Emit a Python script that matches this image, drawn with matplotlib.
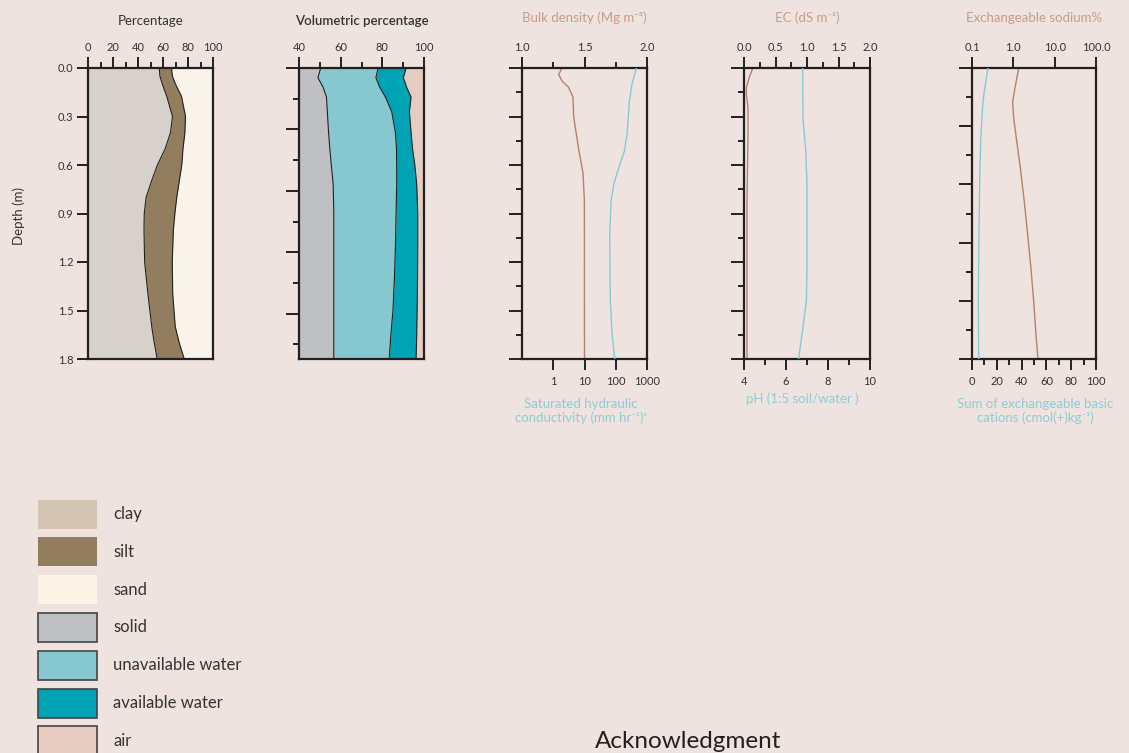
import numpy as np
import matplotlib
matplotlib.use("Agg")
import matplotlib.pyplot as plt
from matplotlib.patches import Rectangle
from matplotlib.ticker import FixedLocator, NullFormatter

plt.rcParams['font.family'] = ['Lato', 'DejaVu Sans']

# ---- data ----
# panel 1: particle size (cumulative %)
tex_depth = [0, 0.05, 0.1, 0.175, 0.3, 0.4, 0.5, 0.6, 0.7, 0.8, 0.9, 1.0, 1.2, 1.4, 1.6, 1.7, 1.8]
clay_top = [57, 57.5, 59.5, 63, 67.6, 66, 61.7, 55.5, 50.8, 46.5, 45, 44.8, 45.3, 48, 51, 53, 55.4]
silt_top = [66.8, 67.5, 70, 74.8, 78, 77.5, 76, 75, 73, 71, 69.5, 68.3, 67.4, 67.8, 69.8, 73, 77]

# panel 2: volumetric composition (cumulative %)
vol_depth = [0, 0.06, 0.12, 0.18, 0.27, 0.4, 0.5, 0.6, 0.72, 0.9, 1.1, 1.3, 1.5, 1.65, 1.8]
solid_top = [50.4, 49.1, 51.6, 53.2, 53.6, 54.2, 54.8, 55.5, 56.4, 56.7, 56.7, 56.7, 56.7, 56.7, 56.7]
unavail_top = [78, 76.9, 78.8, 81.5, 84.5, 86.3, 86.8, 86.9, 86.9, 86.6, 86.3, 85.8, 85.1, 84.1, 83.3]
avail_top = [91.4, 90.1, 91.7, 93.8, 93, 93.8, 94.5, 95.6, 96.5, 97, 97, 96.9, 96.7, 96.5, 96.2]

# panel 3
bd_depth = [0, 0.04, 0.08, 0.12, 0.18, 0.3, 0.5, 0.65, 0.82, 1.8]
bulk_density = [1.32, 1.293, 1.32, 1.373, 1.408, 1.413, 1.453, 1.488, 1.499, 1.5]
ks_depth = [0, 0.1, 0.205, 0.41, 0.513, 0.615, 0.717, 0.82, 1.025, 1.435, 1.64, 1.8]
ksat = [457, 331, 273, 230, 190, 125, 87, 71, 64, 67, 76, 93]

# panel 4
ec_depth = [0, 0.062, 0.123, 0.165, 0.247, 0.41, 0.82, 1.8]
ec = [0.14, 0.08, 0.037, 0.037, 0.064, 0.064, 0.048, 0.048]
ph_depth = [0, 0.31, 0.51, 0.72, 1.23, 1.44, 1.65, 1.8]
ph = [6.79, 6.81, 6.94, 7.0, 7.0, 6.97, 6.76, 6.6]

# panel 5
esp_depth = [0, 0.11, 0.21, 0.31, 0.42, 0.62, 0.83, 1.03, 1.24, 1.44, 1.65, 1.8]
esp = [1.35, 1.12, 0.96, 1.02, 1.16, 1.48, 1.85, 2.22, 2.67, 3.1, 3.53, 3.95]
cat_depth = [0, 0.13, 0.21, 0.42, 0.62, 1.03, 1.44, 1.8]
cations = [12.9, 10.2, 8.8, 7.2, 6.4, 5.6, 5.1, 5.4]

legend_labels = ["clay", "silt", "sand", "solid", "unavailable water", "available water", "air"]

# ---- style ----
BG = "#EEE3DE"
INK = "#231F20"
TXT = "#333333"
C_CLAY, C_SILT, C_SAND = "#D7D1CB", "#937D5F", "#F8F4EA"
L_CLAY, L_SAND = "#D4C5B5", "#FCF4E7"
C_SOLID, C_UNAV, C_AV, C_AIR = "#BFC0C4", "#86C7D0", "#00A3B3", "#E5CCC0"
BROWN = "#B4826F"
BLUE = "#86CAD6"
T_BROWN = "#C99C8A"
T_BLUE = "#8DCCD8"
TICK_FS = 8

W, H = 1129, 753
fig = plt.figure(figsize=(W / 100, H / 100), dpi=100, facecolor=BG)


def make_ax(x0, x1, top=68, bottom=359):
    ax = fig.add_axes([x0 / W, 1 - bottom / H, (x1 - x0) / W, (bottom - top) / H])
    ax.set_facecolor(BG)
    for s in ax.spines.values():
        s.set_linewidth(1.6)
        s.set_color(INK)
    ax.set_ylim(1.8, 0)
    ax.tick_params(axis='both', which='major', direction='out', length=8, width=1.4,
                   color=INK, labelsize=TICK_FS, labelcolor=TXT, pad=2.5)
    ax.tick_params(axis='both', which='minor', direction='out', length=4.5, width=1.4, color=INK)
    return ax


def put_top(ax):
    ax.xaxis.set_ticks_position('top')
    ax.xaxis.set_label_position('top')
    ax.tick_params(axis='x', which='both', top=True, bottom=False,
                   labeltop=True, labelbottom=False)


def depth_ticks(ax, step):
    n = int(round(1.8 / step))
    ticks = [i * step for i in range(n + 1) if i * step <= 1.8 + 1e-9]
    ax.yaxis.set_major_locator(FixedLocator(ticks[::2]))
    ax.yaxis.set_minor_locator(FixedLocator(ticks[1::2]))
    ax.yaxis.set_major_formatter(NullFormatter())
    ax.tick_params(axis='y', which='major', length=9.5)


def bottom_twin(ax):
    tw = ax.twiny()
    tw.xaxis.set_ticks_position('bottom')
    tw.xaxis.set_label_position('bottom')
    tw.tick_params(axis='x', which='both', top=False, bottom=True,
                   labeltop=False, labelbottom=True)
    tw.tick_params(axis='x', which='major', direction='out', length=8, width=1.4,
                   color=INK, labelsize=TICK_FS, labelcolor=TXT, pad=4)
    tw.tick_params(axis='x', which='minor', direction='out', length=4.5, width=1.4, color=INK)
    for s in tw.spines.values():
        s.set_visible(False)
    put_top(ax)
    return tw


# panel 1 -- percentage
ax1 = make_ax(88, 213)
put_top(ax1)
ax1.fill_betweenx(tex_depth, 0, clay_top, color=C_CLAY, lw=0)
ax1.fill_betweenx(tex_depth, clay_top, silt_top, color=C_SILT, lw=0)
ax1.fill_betweenx(tex_depth, silt_top, 100, color=C_SAND, lw=0)
ax1.plot(clay_top, tex_depth, color=INK, lw=0.8)
ax1.plot(silt_top, tex_depth, color=INK, lw=0.8)
ax1.set_xlim(0, 100)
ax1.set_xticks(range(0, 101, 20))
ax1.set_xticks(range(10, 100, 20), minor=True)
ax1.set_yticks(np.arange(0, 1.81, 0.3))
ax1.set_yticklabels(["%.1f" % v for v in np.arange(0, 1.81, 0.3)])
ax1.set_ylim(1.8, 0)
ax1.text(0.5, 1.162, "Percentage", transform=ax1.transAxes, ha='center', va='center',
         fontsize=9.5, color=TXT)
fig.text(19 / W, 1 - 216 / H, "Depth (m)", rotation=90, ha='center', va='center',
         fontsize=9.5, color=TXT)

# panel 2 -- volumetric percentage
ax2 = make_ax(299, 424)
put_top(ax2)
ax2.fill_betweenx(vol_depth, 40, solid_top, color=C_SOLID, lw=0)
ax2.fill_betweenx(vol_depth, solid_top, unavail_top, color=C_UNAV, lw=0)
ax2.fill_betweenx(vol_depth, unavail_top, avail_top, color=C_AV, lw=0)
ax2.fill_betweenx(vol_depth, avail_top, 100, color=C_AIR, lw=0)
for series in (solid_top, unavail_top, avail_top):
    ax2.plot(series, vol_depth, color=INK, lw=0.8)
ax2.set_xlim(40, 100)
ax2.set_xticks(range(40, 101, 20))
ax2.set_xticks(range(50, 100, 20), minor=True)
depth_ticks(ax2, 0.19)
ax2.set_ylim(1.8, 0)
ax2.text(0.5, 1.162, "Volumetric percentage", transform=ax2.transAxes, ha='center',
         va='center', fontsize=9.5, color=TXT, fontweight='semibold')

# panel 3 -- bulk density / Ksat
ax3 = make_ax(522, 647)
tw3 = bottom_twin(ax3)
ax3.plot(bulk_density, bd_depth, color=BROWN, lw=1.0)
ax3.set_xlim(1.0, 2.0)
ax3.set_xticks([1.0, 1.5, 2.0])
ax3.set_xticklabels(["1.0", "1.5", "2.0"])
ax3.set_xticks([1.25, 1.75], minor=True)
depth_ticks(ax3, 0.15)
tw3.plot(ksat, ks_depth, color=BLUE, lw=1.0)
tw3.set_xscale('log')
tw3.set_xlim(0.1, 1000)
tw3.xaxis.set_major_locator(FixedLocator([1, 10, 100, 1000]))
tw3.set_xticklabels(["1", "10", "100", "1000"])
tw3.xaxis.set_minor_locator(FixedLocator([]))
ax3.set_ylim(1.8, 0)
ax3.text(0.5, 1.172, "Bulk density (Mg m\u207b\u00b3)", transform=ax3.transAxes,
         ha='center', va='center', fontsize=9.5, color=T_BROWN)
ax3.text(0.47, -0.178, "Saturated hydraulic\nconductivity (mm hr\u207b\u00b9)\u1d9c",
         transform=ax3.transAxes, ha='center', va='center', fontsize=9.5,
         color=T_BLUE, linespacing=1.15)

# panel 4 -- EC / pH
ax4 = make_ax(744, 870)
tw4 = bottom_twin(ax4)
ax4.plot(ec, ec_depth, color=BROWN, lw=1.0)
ax4.set_xlim(0, 2.0)
ax4.set_xticks([0, 0.5, 1.0, 1.5, 2.0])
ax4.set_xticklabels(["0.0", "0.5", "1.0", "1.5", "2.0"])
ax4.set_xticks([0.25, 0.75, 1.25, 1.75], minor=True)
depth_ticks(ax4, 0.15)
tw4.plot(ph, ph_depth, color=BLUE, lw=1.0)
tw4.set_xlim(4, 10)
tw4.set_xticks([4, 6, 8, 10])
tw4.set_xticks([5, 7, 9], minor=True)
ax4.set_ylim(1.8, 0)
ax4.text(0.5, 1.172, "EC (dS m\u207b\u00b9)", transform=ax4.transAxes,
         ha='center', va='center', fontsize=9.5, color=T_BROWN)
ax4.text(0.46, -0.135, "pH (1:5 soil/water )", transform=ax4.transAxes,
         ha='center', va='center', fontsize=9.5, color=T_BLUE)

# panel 5 -- ESP / cations
ax5 = make_ax(972, 1096)
tw5 = bottom_twin(ax5)
ax5.plot(esp, esp_depth, color=BROWN, lw=1.0)
ax5.set_xscale('log')
ax5.set_xlim(0.1, 100)
ax5.xaxis.set_major_locator(FixedLocator([0.1, 1, 10, 100]))
ax5.set_xticklabels(["0.1", "1.0", "10.0", "100.0"])
ax5.xaxis.set_minor_locator(FixedLocator([]))
depth_ticks(ax5, 0.18)
tw5.plot(cations, cat_depth, color=BLUE, lw=1.0)
tw5.set_xlim(0, 100)
tw5.set_xticks(range(0, 101, 20))
tw5.set_xticks(range(10, 100, 20), minor=True)
ax5.set_ylim(1.8, 0)
ax5.text(0.5, 1.172, "Exchangeable sodium%", transform=ax5.transAxes,
         ha='center', va='center', fontsize=9.5, color=T_BROWN)
ax5.text(0.51, -0.178, "Sum of exchangeable basic\ncations (cmol(+)kg\u207b\u00b9)",
         transform=ax5.transAxes, ha='center', va='center', fontsize=9.5,
         color=T_BLUE, linespacing=1.15)

# legend, drawn as boxes in figure pixel space
lg = fig.add_axes([0, 0, 1, 1], zorder=-1)
lg.set_xlim(0, W)
lg.set_ylim(H, 0)
lg.axis('off')
fills = [L_CLAY, C_SILT, L_SAND, C_SOLID, C_UNAV, C_AV, C_AIR]
edges = ['none', 'none', 'none', '#444444', '#444444', '#444444', '#444444']
for i, (lab, f, e) in enumerate(zip(legend_labels, fills, edges)):
    yc = 514 + i * 37.8
    lg.add_patch(Rectangle((38, yc - 14.5), 59, 29, facecolor=f, edgecolor=e, lw=1.2))
    lg.text(113, yc, lab, ha='left', va='center', fontsize=12, color=TXT)

fig.text(688 / W, 1 - 741 / H, "Acknowledgment", ha='center', va='center',
         fontsize=17.5, color=INK)

fig.savefig("out.png", dpi=100, facecolor=BG)
